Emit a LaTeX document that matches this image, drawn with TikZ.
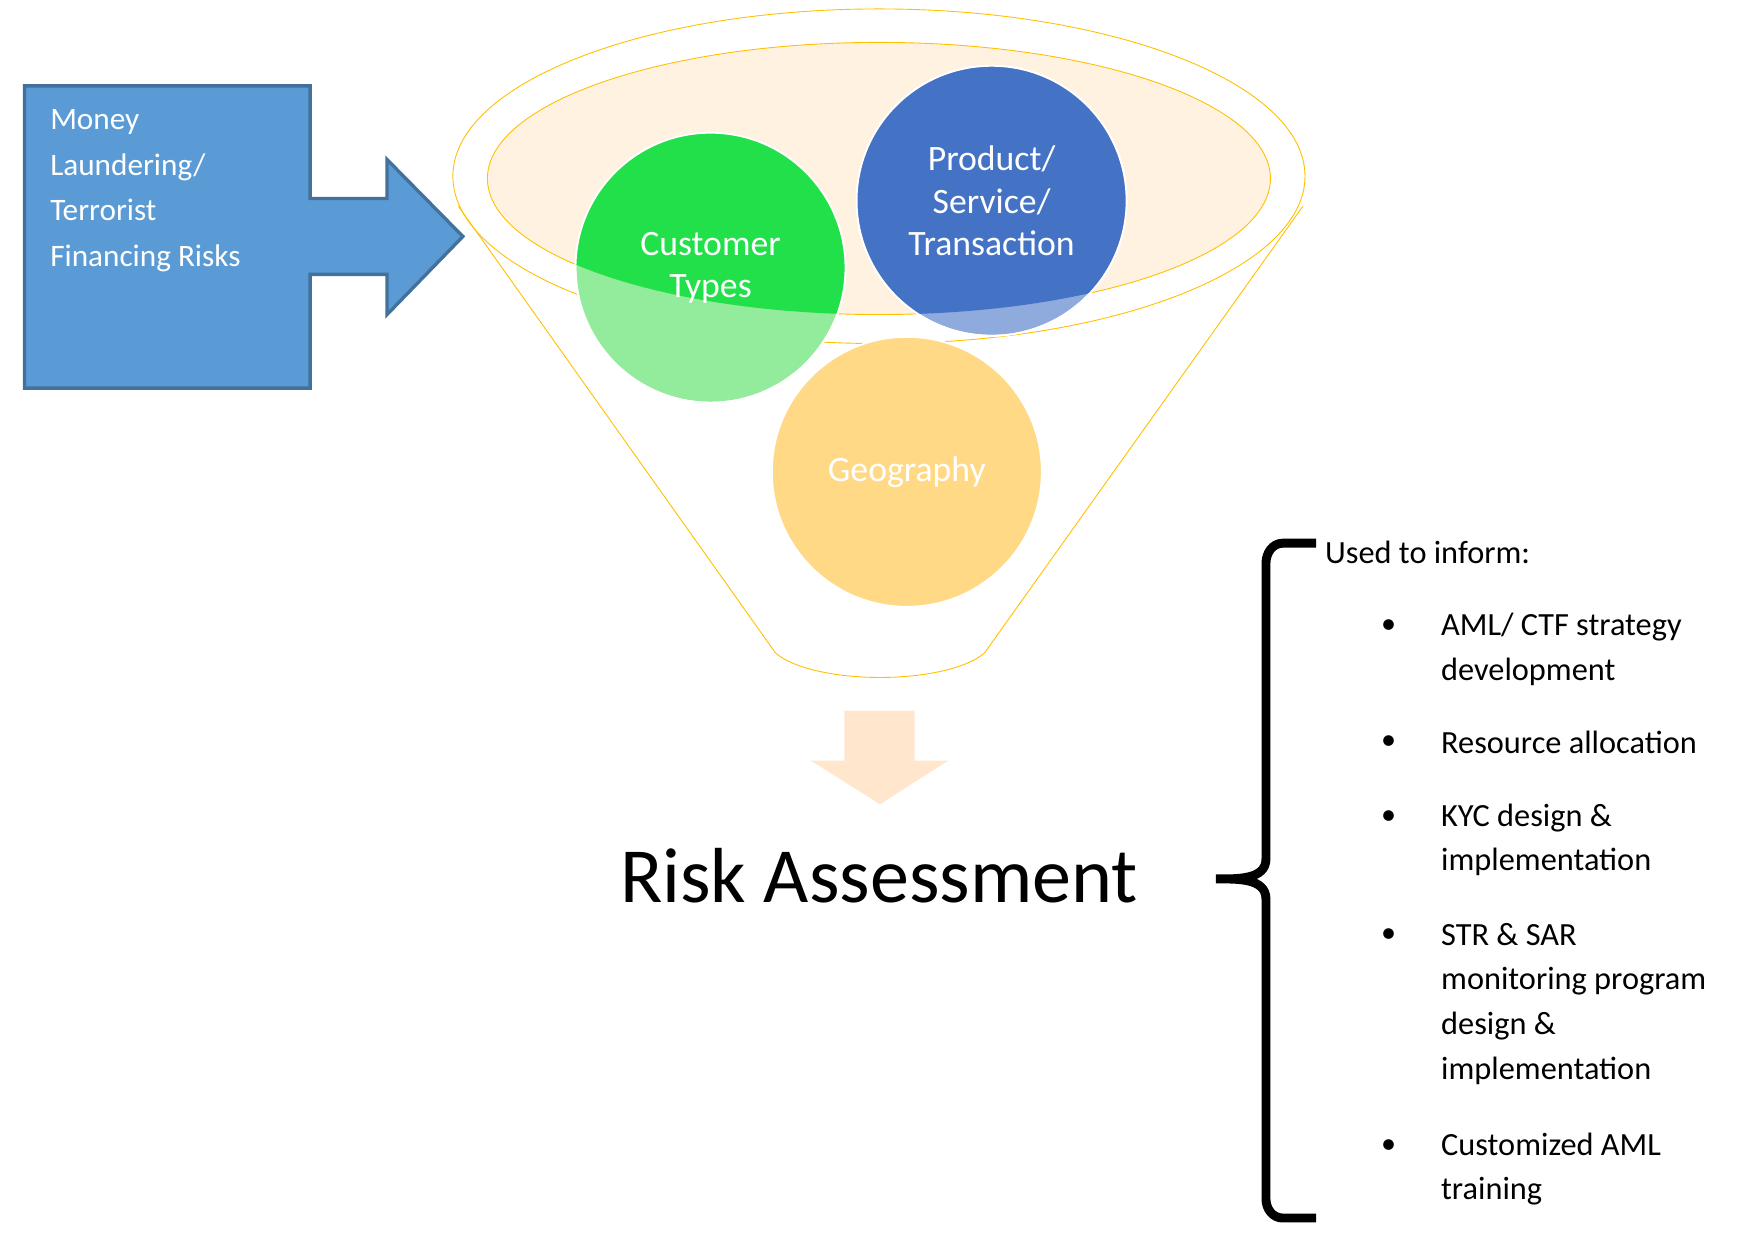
\documentclass[tikz,border=0pt]{standalone}
\usepackage{fontspec}
\setmainfont{Carlito}
\usetikzlibrary{positioning}
\definecolor{boxblue}{HTML}{5B9BD5}
\definecolor{boxedge}{HTML}{41719C}
\definecolor{funnel}{HTML}{FFC000}
\definecolor{funnelin}{HTML}{FFF2E0}
\definecolor{custdark}{HTML}{22E04A}
\definecolor{custlight}{HTML}{93EB9C}
\definecolor{proddark}{HTML}{4472C4}
\definecolor{prodlight}{HTML}{8FAADC}
\definecolor{geo}{HTML}{FFD985}
\definecolor{peach}{HTML}{FFE6CC}
\begin{document}
\begin{tikzpicture}[x=0.5pt,y=-0.5pt,
  circ/.style={circle, minimum size=121pt, draw=white, thick, text=white, align=center, font=\fontsize{16}{19}\selectfont},
  listtext/.style={anchor=west, align=left, font=\fontsize{14.5}{20}\selectfont},
  bullet/.style={anchor=center, font=\fontsize{13.5}{20}\selectfont}]
  \useasboundingbox (0,0) rectangle (1560,1116);
  % input arrow
  \draw[fill=boxblue, draw=boxedge, line width=1.5pt] (22,77) -- (278,77) -- (278,178) -- (347,178) -- (347,143)
    -- (415,212) -- (347,282) -- (347,246) -- (278,246) -- (278,348) -- (22,348) -- cycle;
  \node[anchor=north west, text=white, align=left, font=\fontsize{14}{20.5}\selectfont] (risks) at (38,91)
    {Money\\Laundering/\\Terrorist\\Financing Risks};
  % funnel
  \draw[funnel, thin] (411,185) -- (695,585) arc[start angle=160, end angle=20, x radius=100, y radius=34] -- (1168,185);
  \draw[funnel, thin] (788,158) ellipse[x radius=382, y radius=150];
  \draw[funnel, thin, fill=funnelin] (788,160) ellipse[x radius=351, y radius=122];
  % circles
  \node[circ, fill=custlight] (cust) at (637,240) {};
  \node[circ, fill=prodlight] (prod) at (889,180) {};
  \begin{scope}
    \clip (788,160) ellipse[x radius=351, y radius=122];
    \fill[custdark] (cust) circle[radius=121];
    \fill[proddark] (prod) circle[radius=121];
  \end{scope}
  \draw[white, thick] (cust) circle[radius=121] (prod) circle[radius=121];
  \node[circ, fill=geo] (geo) at (813,423) {Geography};
  \node[text=white, align=center, font=\fontsize{16}{19}\selectfont] at (cust) {Customer\\Types};
  \node[text=white, align=center, font=\fontsize{16}{19}\selectfont] at (prod) {Product/\\Service/\\Transaction};
  % output
  \fill[peach] (757,637) -- (820,637) -- (820,682) -- (850,682) -- (789,721) -- (727,682) -- (757,682) -- cycle;
  \node[font=\fontsize{35}{38}\selectfont] (ra) at (788,785) {Risk Assessment};
  % brace
  \draw[line width=4pt] (1180,487) -- (1150,487) to[out=180,in=90] (1135,505) -- (1135,770)
    to[out=-90,in=0] (1090,788) to[out=0,in=90] (1135,806) -- (1135,1075) to[out=-90,in=180] (1150,1092) -- (1180,1092);
  \node[listtext] (inform) at (1181,495) {Used to inform:};
  \foreach \y/\t [count=\i] in {582/{AML/ CTF strategy\\development}, 666/{Resource allocation},
      753/{KYC design \&\\implementation}, 900/{STR \& SAR\\monitoring program\\design \&\\implementation},
      1048/{Customized AML\\training}}
    \node[listtext] (item\i) at (1285,\y) {\t};
  \foreach \y in {562,666,733,839,1028}
    \node[bullet] at (1245,\y) {•};
\end{tikzpicture}
\end{document}
